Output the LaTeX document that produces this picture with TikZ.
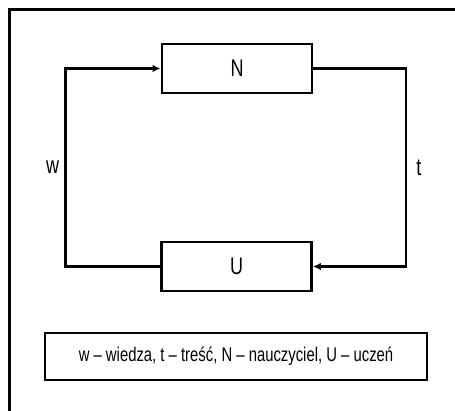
\documentclass[tikz,border=0pt]{standalone}
\usepackage{fontspec}
\setmainfont{Liberation Sans}[FakeStretch=0.75]
\usetikzlibrary{arrows.meta}
\begin{document}
\begin{tikzpicture}[x=1pt,y=1pt,
  frame/.style={line width=2.8pt,line cap=rect},
  block/.style={draw,line width=2.8pt,minimum width=150pt,minimum height=49pt,inner sep=0pt,font=\fontsize{24}{28}\selectfont},
  legendbox/.style={draw,line width=2.8pt,minimum width=382pt,minimum height=47pt,inner sep=0pt,font=\fontsize{19.8}{23}\selectfont},
  conn/.style={line width=2.6pt,-{Latex[length=8pt,width=7.5pt]}},
  lbl/.style={font=\fontsize{24}{28}\selectfont,inner sep=0pt}]
\useasboundingbox (0,0) rectangle (455,-411);
\draw[frame] (9.5,-411) -- (9.5,-9.5) -- (455,-9.5);
\node[block] (N) at (237,-68.5) {N};
\node[block] (U) at (236.5,-266.5) {U};
\node[legendbox] (L) at (236,-356.5) {w -- wiedza, t -- treść, N -- nauczyciel, U -- uczeń};
\coordinate (wc) at (65.5,-68.5);
\coordinate (tc) at (406,-68.5);
\draw[conn] (U.west) -| (wc) node[lbl,pos=0.75,left=5pt] {w} -- (N.west);
\draw[conn] (N.east) -- (tc) |- node[lbl,pos=0.25,right=9pt] {t} (U.east);
\end{tikzpicture}
\end{document}
